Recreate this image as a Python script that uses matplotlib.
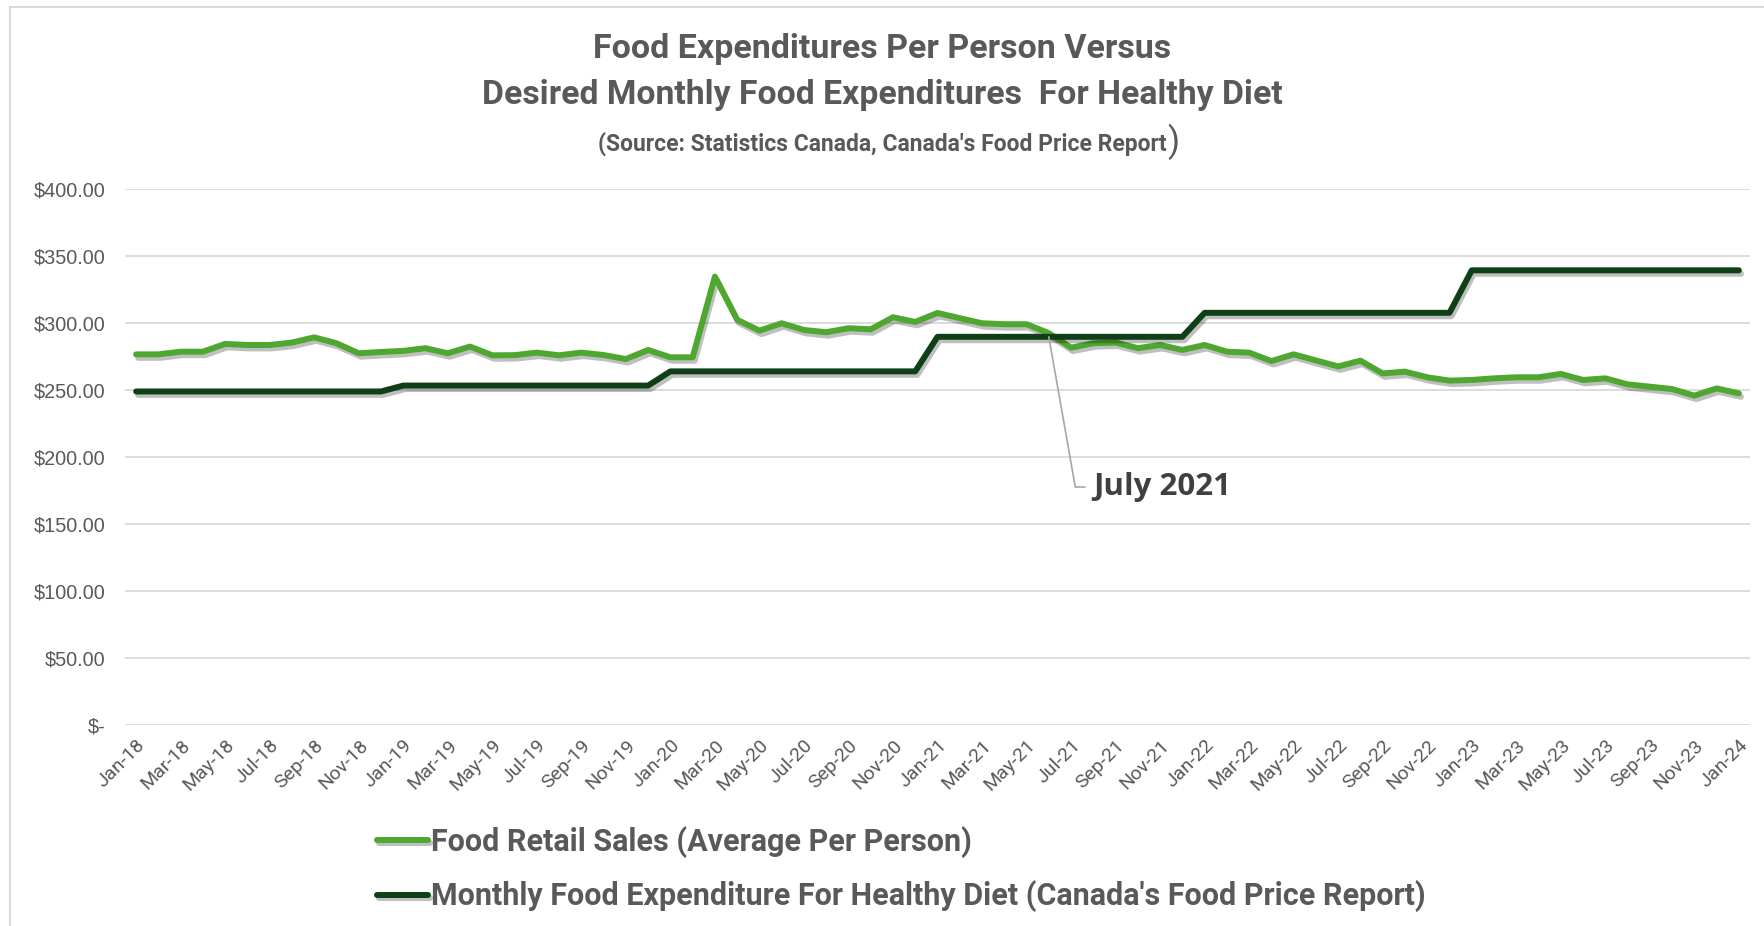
import matplotlib
matplotlib.use("Agg")
import matplotlib.pyplot as plt
import matplotlib.patheffects as pe
from matplotlib.patches import Rectangle
from matplotlib.ticker import FuncFormatter, FixedLocator
import numpy as np
import pandas as pd

# monthly categories Jan-18 .. Jan-24
months = pd.date_range("2018-01-01", "2024-01-01", freq="MS").strftime("%b-%y").tolist()

food_retail = [
    276.6, 276.6, 278.6, 278.6, 284.4, 283.6, 283.6, 285.4, 289.3, 284.9, 277.4, 278.4,
    279.2, 281.2, 277.4, 282.4, 275.9, 276.0, 277.9, 275.9, 277.9, 276.1, 273.1, 279.9,
    274.4, 274.4, 334.6, 302.4, 294.3, 299.8, 294.8, 293.1, 296.1, 295.3, 304.3, 300.8,
    307.5, 303.6, 299.8, 299.1, 299.1, 292.4, 281.6, 284.9, 285.4, 281.2, 283.6, 279.9,
    283.6, 278.6, 277.9, 271.6, 276.6, 272.1, 267.6, 271.9, 262.4, 263.7, 259.5, 257.0,
    257.5, 258.7, 259.5, 259.5, 262.0, 257.5, 258.7, 254.2, 252.5, 250.7, 245.8, 251.2,
    247.5,
]

healthy_diet = ([248.9] * 12 + [253.3] * 12 + [263.9] * 12 +
                [289.7] * 12 + [307.6] * 12 + [339.3] * 13)

label_retail = "Food Retail Sales (Average Per Person)"
label_diet = "Monthly Food Expenditure For Healthy Diet (Canada's Food Price Report)"

NARROW = ["Liberation Sans Narrow", "Roboto", "DejaVu Sans"]
GREY = "#595959"
GREEN = "#4EA72E"
DARK = "#0E3F16"

fig = plt.figure(figsize=(17.65, 9.26), dpi=100)
W, H = 1765, 926
ax = fig.add_axes([125 / W, 1 - 725 / H, (1750 - 125) / W, (725 - 189) / H])

# chart border (top / left visible)
fig.patches.append(Rectangle((10 / W, -0.05), 1.2, 1 - 7 / H + 0.05, transform=fig.transFigure,
                             fill=False, edgecolor="#D9D9D9", linewidth=1.5))

x = np.arange(len(months))
shadow = [pe.SimpleLineShadow(offset=(1.5, -2.5), shadow_color="k", alpha=0.25), pe.Normal()]
ax.plot(x, food_retail, color=GREEN, lw=4.3, solid_capstyle="round", solid_joinstyle="round",
        label=label_retail, path_effects=shadow, zorder=3)
ax.plot(x, healthy_diet, color=DARK, lw=4.3, solid_capstyle="round", solid_joinstyle="round",
        label=label_diet, path_effects=shadow, zorder=3)

ax.set_xlim(-0.5, len(months) - 0.5)
ax.set_ylim(0, 400)
ax.set_yticks(np.arange(0, 401, 50))
ax.yaxis.set_major_formatter(FuncFormatter(lambda v, p: "$-" if v == 0 else f"${v:,.2f}"))
ax.grid(axis="y", color="#D9D9D9", lw=1.3)
ax.set_axisbelow(True)
for s in ax.spines.values():
    s.set_visible(False)

ax.xaxis.set_major_locator(FixedLocator(x[::2]))
ax.set_xticklabels(months[::2], rotation=45, ha="right", rotation_mode="anchor",
                   family=NARROW, fontsize=14, color=GREY)
ax.tick_params(axis="x", length=0, pad=8)
ax.tick_params(axis="y", length=0, pad=14, labelsize=14.3, labelcolor=GREY)
for t in ax.get_yticklabels():
    t.set_family(["Liberation Sans", "DejaVu Sans"])

# July 2021 callout
ax.annotate("July 2021", xy=(41, healthy_diet[41]), xytext=(43.0, 177.6),
            ha="left", va="center", fontsize=22.5, fontweight="bold", color="#404040",
            family=["Open Sans", "DejaVu Sans"],
            arrowprops=dict(arrowstyle="-", color="#A6A6A6", lw=1.2, shrinkA=4, shrinkB=0,
                            connectionstyle="angle,angleA=0,angleB=100,rad=0"))

# titles
fig.text(0.5, 1 - 49 / H, "Food Expenditures Per Person Versus", ha="center", va="center",
         fontsize=24.5, fontweight="bold", color=GREY, family=NARROW)
fig.text(0.5, 1 - 95 / H, "Desired Monthly Food Expenditures  For Healthy Diet", ha="center",
         va="center", fontsize=24.3, fontweight="bold", color=GREY, family=NARROW)
src = fig.text(0.5, 1 - 144 / H, "(Source: Statistics Canada, Canada's Food Price Report",
               ha="center", va="center", fontsize=16.5, fontweight="bold", color=GREY,
               family=NARROW)
fig.canvas.draw()
bb = src.get_window_extent()
fig.text((bb.x1 + 1) / W, 1 - 142 / H, ")", ha="left", va="center", fontsize=25,
         color=GREY, family=NARROW)

fig.legend(loc="center left", bbox_to_anchor=(377 / W, 1 - 869 / H), frameon=False,
           ncol=1, handlelength=1.67, handletextpad=0.1, labelspacing=0.75,
           borderpad=0, borderaxespad=0,
           prop=dict(family=NARROW, weight="bold", size=22), labelcolor=GREY)

fig.savefig("out.png", dpi=100)
